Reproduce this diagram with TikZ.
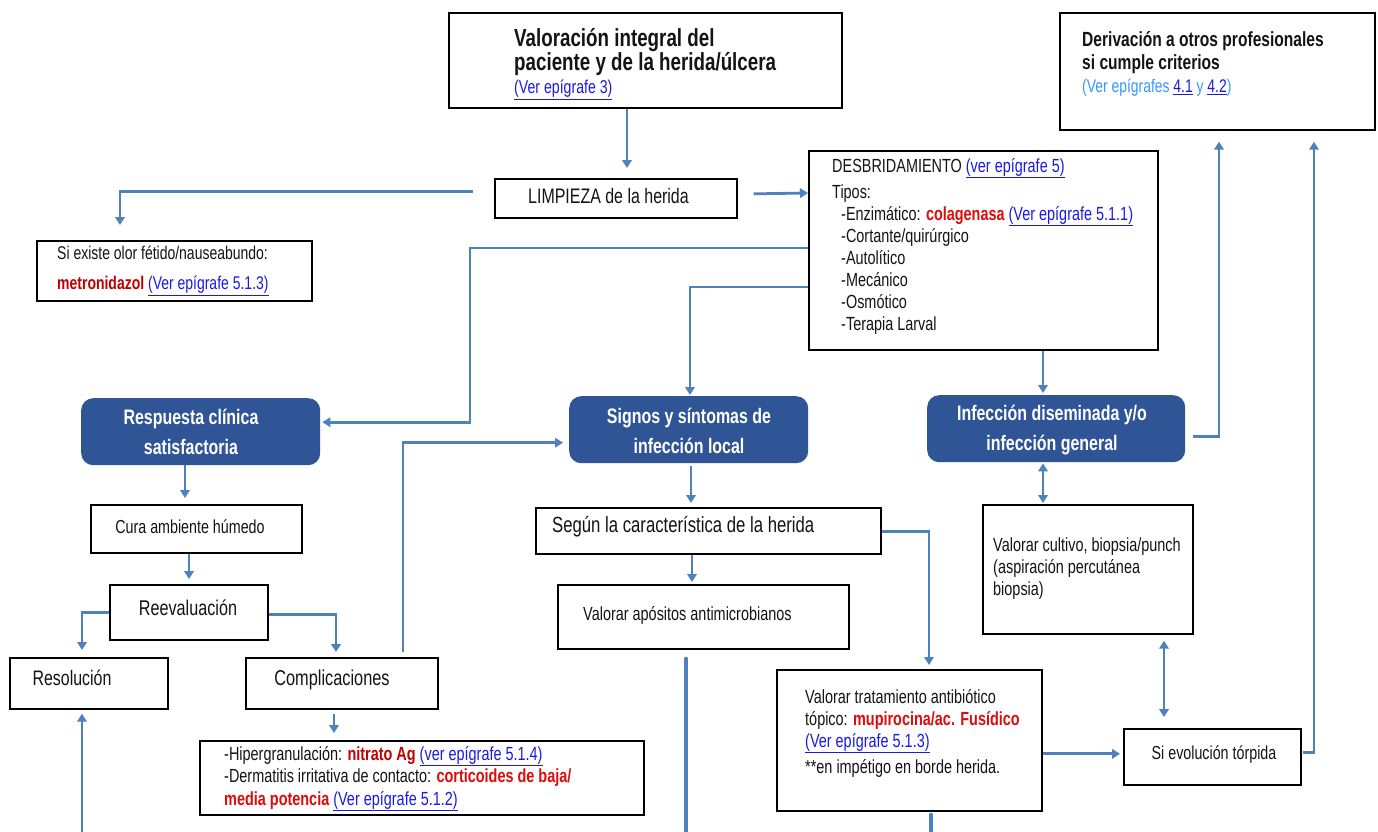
\documentclass[tikz,border=0pt]{standalone}
\usepackage{fontspec}
\setmainfont{Liberation Sans}[FakeStretch=0.76]
\usetikzlibrary{arrows.meta,calc}
\definecolor{lineblue}{RGB}{79,129,189}
\definecolor{boxblue}{RGB}{47,85,151}
\definecolor{redtx}{RGB}{222,12,12}
\definecolor{darkred}{RGB}{192,0,0}
\definecolor{linkblue}{RGB}{25,25,235}
\definecolor{ltblue}{RGB}{51,153,255}
\definecolor{textcol}{RGB}{20,20,20}
\newcommand\mylink[1]{\textcolor{linkblue}{\underline{#1}}}
\newcommand\myred[1]{\textcolor{redtx}{\bfseries #1}}
\newcommand\mydred[1]{\textcolor{darkred}{\bfseries #1}}
\begin{document}
\begin{tikzpicture}[x=1pt,y=-1pt,
  bx/.style={draw=black, line width=1.7pt, anchor=north west, inner sep=0pt, fill=white},
  bbx/.style={fill=boxblue, rounded corners=12pt, anchor=north west, inner sep=0pt},
  tx/.style={inner sep=0pt, align=left, anchor=west, text=textcol},
  ctx/.style={inner sep=0pt, align=center, anchor=center, text=textcol},
  wtx/.style={inner sep=0pt, align=center, anchor=center, text=white, font=\bfseries\fontsize{21}{30}\selectfont},
  arr/.style={draw=lineblue, line width=2.8pt, -{Triangle[width=9.5pt,length=8pt]}},
  dbl/.style={draw=lineblue, line width=2.8pt, {Triangle[width=9.5pt,length=8pt]}-{Triangle[width=9.5pt,length=8pt]}},
  thk/.style={draw=lineblue, line width=4pt, line cap=round}
]
\useasboundingbox (0,0) rectangle (1378,832);
\fill[white] (0,0) rectangle (1378,832);

% boxes
\node[bx, minimum width=393pt, minimum height=95pt] (val) at (448,12) {};
\node[bx, minimum width=315pt, minimum height=117pt] (deriv) at (1059,12) {};
\node[bx, minimum width=242pt, minimum height=39pt] (limp) at (494,178) {};
\node[bx, minimum width=349pt, minimum height=199pt] (desb) at (808,150) {};
\node[bx, minimum width=275pt, minimum height=60pt] (siex) at (36,240) {};
\node[bbx, minimum width=239pt, minimum height=67pt] (resp) at (81,398) {};
\node[bbx, minimum width=239pt, minimum height=67pt] (sign) at (569,396) {};
\node[bbx, minimum width=258pt, minimum height=67pt] (infec) at (927,395) {};
\node[bx, minimum width=211pt, minimum height=48pt] (cura) at (90,504) {};
\node[bx, minimum width=158pt, minimum height=55pt] (reev) at (109,584) {};
\node[bx, minimum width=158pt, minimum height=51pt] (resol) at (9,657) {};
\node[bx, minimum width=192pt, minimum height=51pt] (compl) at (245,657) {};
\node[bx, minimum width=444pt, minimum height=74pt] (hiper) at (199,740) {};
\node[bx, minimum width=345pt, minimum height=46pt] (segun) at (535,507) {};
\node[bx, minimum width=291pt, minimum height=64pt] (apos) at (557,584) {};
\node[bx, minimum width=265pt, minimum height=141pt] (trat) at (776,669) {};
\node[bx, minimum width=210pt, minimum height=129pt] (cult) at (982,504) {};
\node[bx, minimum width=177pt, minimum height=56pt] (evol) at (1123,728) {};

% texts
\node[tx, font=\bfseries\fontsize{24.7}{23}\selectfont] (valT) at (514,64)
  {Valoración integral del\\paciente y de la herida/úlcera\\{\normalfont\fontsize{18.6}{23}\selectfont\mylink{(Ver epígrafe 3)}}};
\node[tx, font=\bfseries\fontsize{20.5}{23}\selectfont] (derivT) at (1082,64)
  {Derivación a otros profesionales\\si cumple criterios\\{\normalfont\fontsize{18.3}{23}\selectfont\color{ltblue}(Ver epígrafes \mylink{4.1} y \mylink{4.2})}};
\node[tx, font=\fontsize{21}{24}\selectfont] (limpT) at (528,196) {LIMPIEZA de la herida};
\node[tx, font=\fontsize{19}{22}\selectfont] (desbT) at (832,246)
  {DESBRIDAMIENTO \mylink{(ver epígrafe 5)}\\[4pt]
   Tipos:\\
   \hspace*{9pt}-Enzimático: \myred{colagenasa} \mylink{(Ver epígrafe 5.1.1)}\\
   \hspace*{9pt}-Cortante/quirúrgico\\
   \hspace*{9pt}-Autolítico\\
   \hspace*{9pt}-Mecánico\\
   \hspace*{9pt}-Osmótico\\
   \hspace*{9pt}-Terapia Larval};
\node[tx, font=\fontsize{18.4}{30}\selectfont] (siexT) at (57,271)
  {Si existe olor fétido/nauseabundo:\\\mydred{metronidazol} \mylink{(Ver epígrafe 5.1.3)}};
\node[wtx] (respT) at (191,432) {Respuesta clínica\\satisfactoria};
\node[wtx] (signT) at (689,431) {Signos y síntomas de\\infección local};
\node[wtx] (infecT) at (1052,430) {Infección diseminada y/o\\infección general};
\node[ctx, font=\fontsize{18.8}{22}\selectfont] (curaT) at (190,527) {Cura ambiente húmedo};
\node[ctx, font=\fontsize{21.3}{24}\selectfont] (reevT) at (188,608) {Reevaluación};
\node[ctx, font=\fontsize{21}{24}\selectfont] (resolT) at (72,678) {Resolución};
\node[ctx, font=\fontsize{21.5}{24}\selectfont] (complT) at (332,680) {Complicaciones};
\node[tx, font=\fontsize{19}{22.5}\selectfont] (hiperT) at (224,778.5)
  {-Hipergranulación: \mydred{nitrato Ag} \mylink{(ver epígrafe 5.1.4)}\\
   -Dermatitis irritativa de contacto: \myred{corticoides de baja/}\\
   \myred{media potencia} \mylink{(Ver epígrafe 5.1.2)}};
\node[tx, font=\fontsize{22}{24}\selectfont] (segunT) at (552,527) {Según la característica de la herida};
\node[tx, font=\fontsize{19}{22}\selectfont] (aposT) at (583,615) {Valorar apósitos antimicrobianos};
\node[tx, font=\fontsize{19}{22}\selectfont] (tratT) at (805,733)
  {Valorar tratamiento antibiótico\\
   tópico: \myred{mupirocina/ac. Fusídico}\\
   \mylink{(Ver epígrafe 5.1.3)}\\[4pt]
   **en impétigo en borde herida.};
\node[tx, font=\fontsize{19}{22}\selectfont] (cultT) at (993,569)
  {Valorar cultivo, biopsia/punch\\(aspiración percutánea\\biopsia)};
\node[ctx, font=\fontsize{18.8}{22}\selectfont] (evolT) at (1214,755) {Si evolución tórpida};

% free ends
\coordinate (bot1) at (82,832);
\coordinate (bot2) at (686,832);
\coordinate (bot3) at (931,832);

% connectors
\draw[arr] ($(val.south west)+(179,0)$) -- ($(limp.north west)+(133,-10)$);
\draw[arr] ($(limp.east)+(16,-4.5)$) -- ($(desb.north west)+(0,43)$);
\draw[arr] ($(limp.west)+(-21,-7)$) -| ($(siex.north west)+(84,-15)$);
\draw[arr] ($(desb.north west)+(0,98)$) -- ++(-338,0) |- ($(resp.east)+(2,-9.5)$);
\draw[arr] ($(desb.north west)+(0,137)$) -| ($(sign.north west)+(121,-1)$);
\draw[arr] ($(desb.south west)+(235,0)$) -- ($(infec.north west)+(116,-2)$);
\draw[arr] ($(infec.east)+(8,7.5)$) -| ($(deriv.south west)+(160,11)$);
\draw[arr] ($(evol.east)+(1,-4)$) -| ($(deriv.south west)+(255,11)$);
\draw[arr] ($(resp.south west)+(104,0)$) -- ($(cura.north west)+(95,-6)$);
\draw[arr] ($(cura.south west)+(99,0)$) -- ($(reev.north west)+(80,-5)$);
\draw[arr] ($(reev.west)+(0,0.5)$) -| ($(resol.north west)+(73,-7)$);
\draw[arr] ($(reev.east)+(0,2.5)$) -| ($(compl.north west)+(91,-5)$);
\draw[arr] ($(compl.north west)+(158,-5)$) |- ($(sign.west)+(-6,13)$);
\draw[arr] ($(compl.south west)+(89,4)$) -- ($(hiper.north west)+(135,-7)$);
\draw[arr] (bot1) -- ($(resol.south west)+(73,4)$);
\draw[arr] ($(sign.south west)+(122,3)$) -- ($(segun.north west)+(156,-4)$);
\draw[arr] ($(segun.south west)+(157,0)$) -- ($(apos.north west)+(135,-2)$);
\draw[arr] ($(segun.east)+(0,1)$) -| ($(trat.north west)+(153,-4)$);
\draw[arr] ($(trat.east)+(0,13.5)$) -- ($(evol.west)+(-3,-3)$);
\draw[dbl] ($(infec.south west)+(116,1)$) -- ($(cult.north west)+(61,-1)$);
\draw[dbl] ($(cult.south west)+(182,6)$) -- ($(evol.north west)+(41,-11)$);
\draw[thk] ($(apos.south west)+(129,9)$) -- (bot2);
\draw[thk] ($(trat.south west)+(155,3)$) -- (bot3);
\end{tikzpicture}
\end{document}
